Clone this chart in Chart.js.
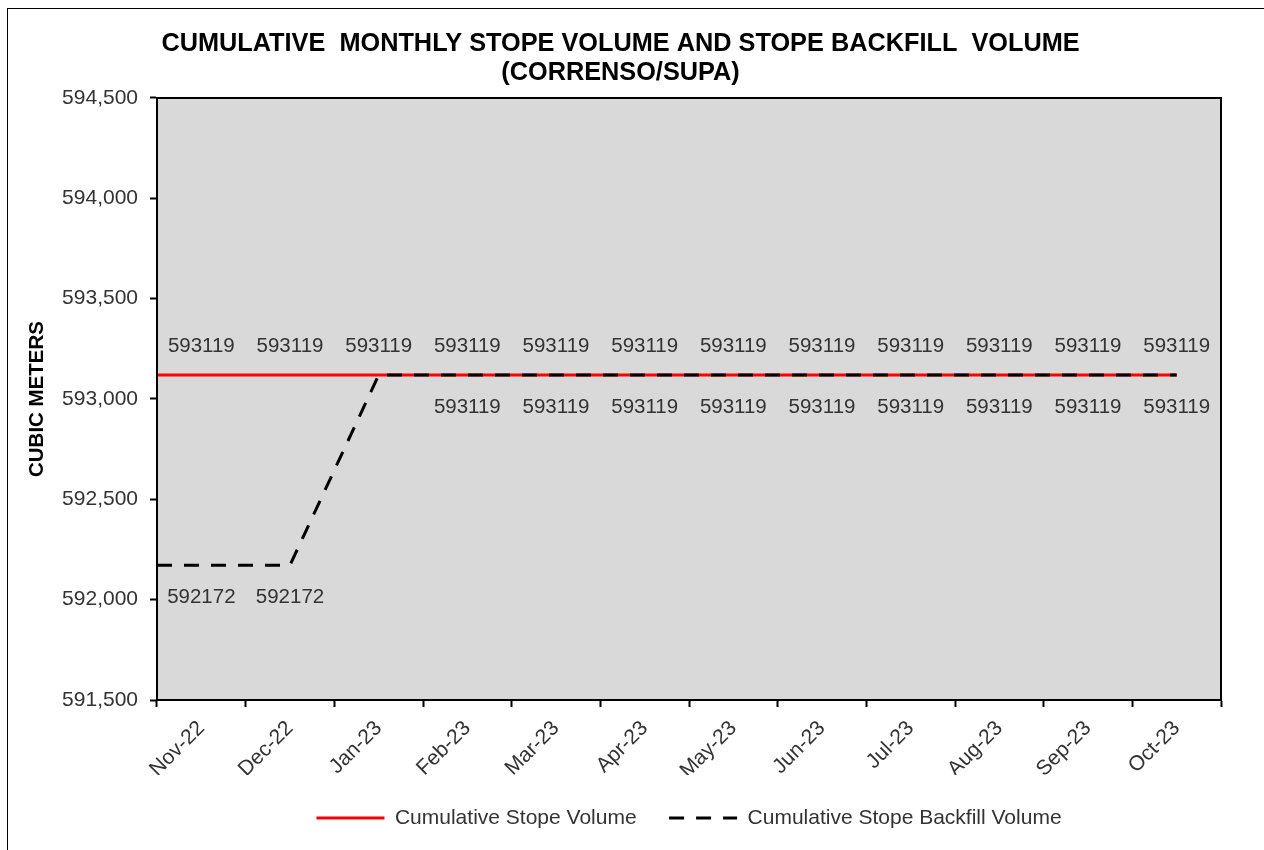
<!DOCTYPE html>
<html>
<head>
  <meta charset="UTF-8">
  <title>Cumulative Monthly Stope Volume and Stope Backfill Volume</title>
  <script src="https://cdn.jsdelivr.net/npm/chart.js"></script>
  <style>
    body { margin: 0; background: #fff; }
    canvas { display: block; }
  </style>
</head>
<body>
  <canvas id="chart" width="1264" height="850"></canvas>

  <script>
    const months = ['Nov-22', 'Dec-22', 'Jan-23', 'Feb-23', 'Mar-23', 'Apr-23',
                    'May-23', 'Jun-23', 'Jul-23', 'Aug-23', 'Sep-23', 'Oct-23'];
    const stopeVolume = [593119, 593119, 593119, 593119, 593119, 593119,
                         593119, 593119, 593119, 593119, 593119, 593119];
    const backfillVolume = [592172, 592172, 593119, 593119, 593119, 593119,
                            593119, 593119, 593119, 593119, 593119, 593119];
    const yTicks = [591500, 592000, 592500, 593000, 593500, 594000, 594500];

    const FONT = "'Liberation Sans', Arial, sans-serif";
    const TEXT = '#333333';
    const xMin = -0.5, xMax = months.length - 0.5;

    // the lines in the picture run on to the left edge of the plot
    function toPoints(values) {
      const pts = values.map((v, i) => ({ x: i, y: v }));
      pts.unshift({ x: xMin, y: values[0] });
      return pts;
    }

    const plotFrame = {
      id: 'plotFrame',
      beforeDraw(chart) {
        const { ctx, chartArea: a } = chart;
        ctx.save();
        ctx.strokeStyle = '#000';
        ctx.lineWidth = 1;
        ctx.strokeRect(7.5, 8.5, chart.width, chart.height);
        ctx.fillStyle = '#d9d9d9';
        ctx.fillRect(a.left, a.top, a.right - a.left, a.bottom - a.top);
        ctx.restore();
      },
      afterDraw(chart) {
        const { ctx, chartArea: a } = chart;
        ctx.save();
        ctx.strokeStyle = '#000';
        ctx.lineWidth = 2;
        ctx.strokeRect(a.left, a.top, a.right - a.left, a.bottom - a.top);
        ctx.restore();
      }
    };

    const valueLabels = {
      id: 'valueLabels',
      afterDatasetsDraw(chart) {
        const { ctx } = chart;
        ctx.save();
        ctx.font = '20.5px ' + FONT;
        ctx.fillStyle = TEXT;
        ctx.textAlign = 'center';
        ctx.textBaseline = 'middle';
        chart.data.datasets.forEach((ds, di) => {
          const meta = chart.getDatasetMeta(di);
          meta.data.forEach((pt, i) => {
            if (i === 0) return;
            if ((ds.hiddenLabels || []).includes(i - 1)) return;
            ctx.fillText(String(ds.data[i].y), pt.x, pt.y + ds.labelOffset);
          });
        });
        ctx.restore();
      }
    };

    new Chart(document.getElementById('chart'), {
      type: 'line',
      data: {
        labels: months,
        datasets: [{
          label: 'Cumulative Stope Volume',
          data: toPoints(stopeVolume),
          xAxisID: 'xl',
          borderColor: '#ff0000',
          backgroundColor: '#ff0000',
          borderWidth: 3,
          pointRadius: 0,
          order: 1,
          labelOffset: -29
        }, {
          label: 'Cumulative Stope Backfill Volume',
          data: toPoints(backfillVolume),
          xAxisID: 'xl',
          borderColor: '#000000',
          backgroundColor: '#000000',
          borderWidth: 3,
          borderDash: [15, 12],
          pointRadius: 0,
          order: 0,
          labelOffset: 32,
          hiddenLabels: [2]
        }]
      },
      options: {
        responsive: false,
        animation: false,
        layout: { padding: { top: 29.5, left: 20, right: 43, bottom: 11.5 } },
        plugins: {
          title: {
            display: true,
            text: ['CUMULATIVE  MONTHLY STOPE VOLUME AND STOPE BACKFILL  VOLUME', '(CORRENSO/SUPA)'],
            color: '#000',
            font: { family: FONT, size: 25.3, weight: 'bold', lineHeight: 1.15 },
            padding: { top: 0, bottom: 10.3 }
          },
          legend: {
            position: 'bottom',
            fullSize: false,
            labels: {
              usePointStyle: true,
              pointStyle: 'line',
              pointStyleWidth: 68,
              padding: 32.5,
              color: TEXT,
              font: { family: FONT, size: 21 },
              sort: (a, b) => a.datasetIndex - b.datasetIndex,
              generateLabels(chart) {
                const items = Chart.defaults.plugins.legend.labels.generateLabels(chart);
                items.forEach(it => {
                  const ds = chart.data.datasets[it.datasetIndex];
                  it.lineDash = ds.borderDash || [];
                  it.lineWidth = ds.borderWidth;
                  it.strokeStyle = ds.borderColor;
                });
                return items;
              }
            }
          },
          tooltip: { enabled: false }
        },
        scales: {
          x: {
            type: 'category',
            offset: true,
            grid: { offset: true, drawOnChartArea: false, color: '#000', tickLength: 7, tickWidth: 2 },
            border: { color: '#000', width: 2 },
            ticks: {
              color: TEXT,
              font: { family: FONT, size: 21 },
              maxRotation: 45,
              minRotation: 45,
              padding: 9
            },
            afterFit(scale) { scale.height = 75; }
          },
          xl: {
            type: 'linear',
            display: false,
            min: xMin,
            max: xMax
          },
          y: {
            min: yTicks[0],
            max: yTicks[yTicks.length - 1],
            afterBuildTicks(scale) { scale.ticks = yTicks.map(v => ({ value: v })); },
            grid: { drawOnChartArea: false, color: '#000', tickLength: 7, tickWidth: 2 },
            border: { color: '#000', width: 2 },
            ticks: {
              color: TEXT,
              font: { family: FONT, size: 21 },
              padding: 12,
              callback: v => v.toLocaleString('en-US')
            },
            title: {
              display: true,
              text: 'CUBIC METERS',
              color: '#000',
              font: { family: FONT, size: 20.5, weight: 'bold' },
              padding: { top: 5, bottom: 0 }
            },
            afterFit(scale) { scale.width = 137; }
          }
        }
      },
      plugins: [plotFrame, valueLabels]
    });
  </script>
</body>
</html>
